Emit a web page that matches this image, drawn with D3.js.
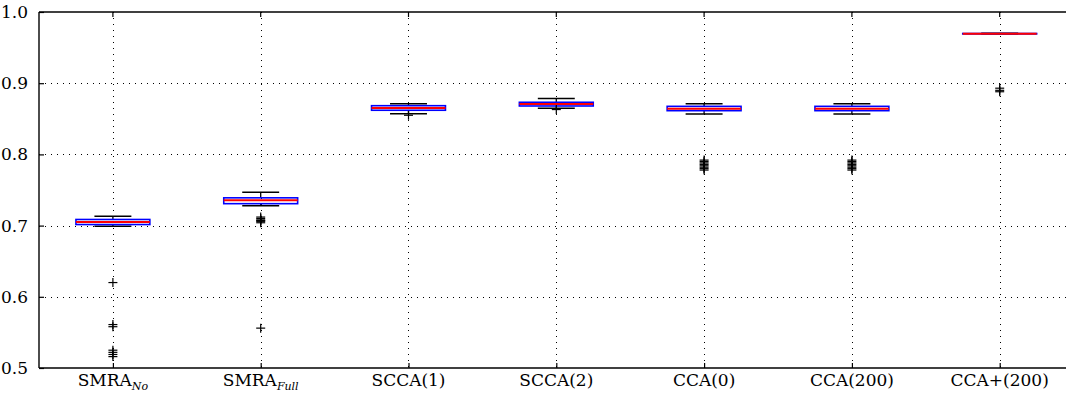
<!DOCTYPE html>
<html>
<head>
<meta charset="utf-8">
<script src="https://cdn.jsdelivr.net/npm/d3@7/dist/d3.min.js"></script>
<style>
  body { margin: 0; background: #fff; }
  svg { display: block; }
  text { font-family: "DejaVu Serif", serif; fill: #000; }
</style>
</head>
<body>
<svg id="chart" width="1066" height="395"></svg>
<script>
// ---------- data ----------
const categories = ["SMRA_No", "SMRA_Full", "SCCA(1)", "SCCA(2)", "CCA(0)", "CCA(200)", "CCA+(200)"];
const labelMain = ["SMRA", "SMRA", "SCCA(1)", "SCCA(2)", "CCA(0)", "CCA(200)", "CCA+(200)"];
const labelSub  = ["No", "Full", "", "", "", "", ""];
const whiskerLow  = [0.699, 0.728, 0.857, 0.8647, 0.8567, 0.8567, 0.9690];
const q1          = [0.7015, 0.7308, 0.862, 0.868, 0.8614, 0.8614, 0.9692];
const median      = [0.705, 0.7355, 0.8652, 0.8708, 0.8642, 0.8642, 0.9695];
const q3          = [0.7086, 0.739, 0.8684, 0.8732, 0.8675, 0.8675, 0.9698];
const whiskerHigh = [0.713, 0.747, 0.8712, 0.8785, 0.8712, 0.8712, 0.9700];
const outliers = [
  [0.620, 0.558, 0.561, 0.516, 0.519, 0.522, 0.525],
  [0.704, 0.706, 0.707, 0.708, 0.710, 0.712, 0.556],
  [0.855],
  [0.863],
  [0.778, 0.780, 0.782, 0.784, 0.786, 0.788, 0.790, 0.792],
  [0.778, 0.780, 0.782, 0.784, 0.786, 0.788, 0.790, 0.792],
  [0.888, 0.890, 0.893]
];
const yTicks = [0.5, 0.6, 0.7, 0.8, 0.9, 1.0];

// ---------- layout ----------
const svg = d3.select("#chart");
const L = 39, T = 12, B = 368, R = 1073.6;
const x = d3.scaleLinear().domain([0.5, categories.length + 0.5]).range([L, R]);
const y = d3.scaleLinear().domain([0.5, 1.0]).range([B, T]);
const pos = i => x(i + 1);
const boxW = x(1.25) - x(1);   // half width (0.25 units)
const capW = x(1.125) - x(1);  // half cap width

// grid
const grid = svg.append("g");
grid.selectAll("line.h").data(yTicks.slice(1, -1)).join("line")
  .attr("x1", L).attr("x2", R)
  .attr("y1", d => Math.round(y(d)) + 0.5).attr("y2", d => Math.round(y(d)) + 0.5)
  .attr("stroke", "#000").attr("stroke-width", 1).attr("stroke-dasharray", "1,5");
grid.selectAll("line.v").data(categories).join("line")
  .attr("x1", (d, i) => Math.round(pos(i)) + 0.5).attr("x2", (d, i) => Math.round(pos(i)) + 0.5)
  .attr("y1", T).attr("y2", B)
  .attr("stroke", "#000").attr("stroke-width", 1).attr("stroke-dasharray", "1,5");

// boxes
const g = svg.append("g");
categories.forEach((c, i) => {
  const cx = pos(i);
  g.append("line").attr("x1", cx).attr("x2", cx).attr("y1", y(q3[i])).attr("y2", y(whiskerHigh[i]))
    .attr("stroke", "#000").attr("stroke-width", 1.3);
  g.append("line").attr("x1", cx).attr("x2", cx).attr("y1", y(q1[i])).attr("y2", y(whiskerLow[i]))
    .attr("stroke", "#000").attr("stroke-width", 1.3);
  [whiskerHigh[i], whiskerLow[i]].forEach(v => {
    g.append("line").attr("x1", cx - capW).attr("x2", cx + capW).attr("y1", y(v)).attr("y2", y(v))
      .attr("stroke", "#000").attr("stroke-width", 1.5);
  });
  g.append("rect").attr("x", cx - boxW).attr("width", 2 * boxW)
    .attr("y", y(q3[i])).attr("height", Math.max(0.1, y(q1[i]) - y(q3[i])))
    .attr("fill", "none").attr("stroke", "#0000ff").attr("stroke-width", 1.6);
  g.append("line").attr("x1", cx - boxW).attr("x2", cx + boxW).attr("y1", y(median[i])).attr("y2", y(median[i]))
    .attr("stroke", "#ff0000").attr("stroke-width", 2);
  outliers[i].forEach(v => {
    const yy = y(v);
    g.append("line").attr("x1", cx - 4.5).attr("x2", cx + 4.5).attr("y1", yy).attr("y2", yy)
      .attr("stroke", "#000").attr("stroke-width", 1.2);
    g.append("line").attr("x1", cx).attr("x2", cx).attr("y1", yy - 4.5).attr("y2", yy + 4.5)
      .attr("stroke", "#000").attr("stroke-width", 1.2);
  });
});

// axes frame
const frame = svg.append("g").attr("stroke", "#000").attr("stroke-width", 1.4);
frame.append("line").attr("x1", L).attr("x2", R).attr("y1", T).attr("y2", T);
frame.append("line").attr("x1", L).attr("x2", R).attr("y1", B).attr("y2", B);
frame.append("line").attr("x1", L).attr("x2", L).attr("y1", T).attr("y2", B);
frame.append("line").attr("x1", R).attr("x2", R).attr("y1", T).attr("y2", B);

// left axis (inward ticks)
const yAxis = d3.axisLeft(y).tickValues(yTicks).tickFormat(d3.format(".1f")).tickSizeInner(-5).tickSizeOuter(0).tickPadding(11);
const ya = svg.append("g").attr("transform", `translate(${L},0)`).call(yAxis);
ya.select(".domain").remove();
ya.selectAll("line").attr("stroke-width", 1.2);
ya.selectAll("text").attr("font-size", 17);

// top ticks
svg.append("g").selectAll("line").data(categories).join("line")
  .attr("x1", (d, i) => pos(i)).attr("x2", (d, i) => pos(i)).attr("y1", T).attr("y2", T + 5)
  .attr("stroke", "#000").attr("stroke-width", 1.2);

// bottom axis
const xAxis = d3.axisBottom(x).tickValues(d3.range(1, categories.length + 1)).tickFormat("").tickSizeInner(-5).tickSizeOuter(0);
const xa = svg.append("g").attr("transform", `translate(0,${B})`).call(xAxis);
xa.select(".domain").remove();
xa.selectAll("line").attr("stroke-width", 1.2);

const labels = svg.append("g");
categories.forEach((c, i) => {
  const t = labels.append("text").attr("x", pos(i)).attr("y", 386).attr("text-anchor", "middle").attr("font-size", 17);
  t.append("tspan").text(labelMain[i]);
  if (labelSub[i]) {
    t.append("tspan").attr("dy", 4).attr("font-size", 11).attr("font-style", "italic").text(labelSub[i]);
  }
});
</script>
</body>
</html>
